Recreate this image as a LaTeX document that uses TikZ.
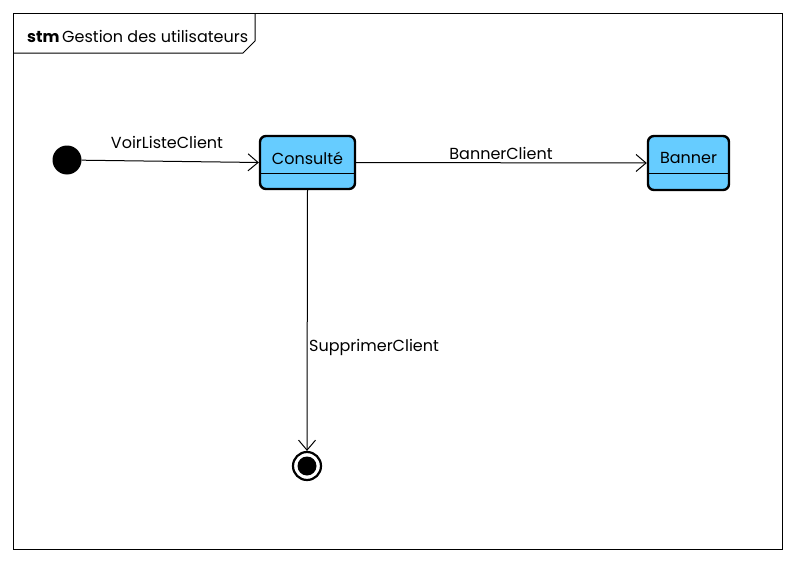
\documentclass[tikz,border=0pt]{standalone}
\usepackage{fontspec}
\setmainfont{Poppins}
\usetikzlibrary{arrows.meta}
\definecolor{stateblue}{HTML}{66CCFF}

\begin{document}
\begin{tikzpicture}[x=1pt, y=-1pt,
    state/.style={draw, line width=2.4pt, rounded corners=6pt, fill=stateblue, inner sep=0pt},
    trans/.style={-{Straight Barb[length=10pt, width=17pt]}, line width=1pt},
    txt/.style={font=\fontsize{16}{18}\selectfont, inner sep=1pt}]
    \useasboundingbox (0,0) rectangle (796,562);

    % Frame with header tab
    \draw[line width=1pt] (13,13) rectangle (782,549);
    \draw[line width=1pt] (13,53) -- (243,53) -- (255,41) -- (255,13);
    \node[txt, anchor=west] (title) at (26,36) {\textbf{stm}\,Gestion des utilisateurs};

    % Initial and final states
    \node[circle, fill=black, minimum size=29pt, inner sep=0pt] (init) at (67,160) {};
    \node[circle, draw, line width=2.2pt, minimum size=28pt, inner sep=0pt] (final) at (307,466) {};
    \fill (final.center) circle (9.5pt);

    % Consulte state
    \node[state, minimum width=95pt, minimum height=53pt] (consulte) at (307.5,162.5) {};
    \draw[line width=1pt] (260,173) -- (355,173);
    \node[txt] (consulteName) at (307.5,158) {Consulté};

    % Banner state
    \node[state, minimum width=81pt, minimum height=54pt] (banner) at (688.5,163) {};
    \draw[line width=1pt] (648,173) -- (729,173);
    \node[txt] (bannerName) at (688.5,158) {Banner};

    % Transitions
    \draw[trans] (init) -- (consulte.west);
    \draw[trans] (consulte.east) -- (banner.west);
    \draw[trans] (consulte.south) -- (final.north);

    \node[txt] (voir) at (167,142) {VoirListeClient};
    \node[txt] (bannerLbl) at (501,153) {BannerClient};
    \node[txt, anchor=west] (suppr) at (308,347) {SupprimerClient};
\end{tikzpicture}
\end{document}
